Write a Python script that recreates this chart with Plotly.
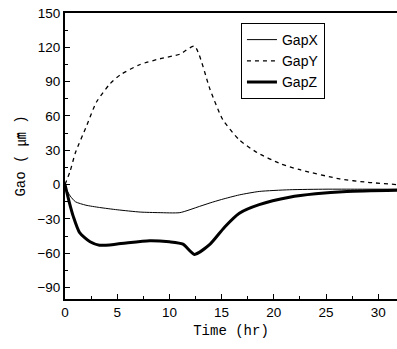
import plotly.graph_objects as go

t_x = [0, 0.5, 1, 2, 3.3, 5, 7.2, 9, 11, 12.9, 13.9, 15, 16.7, 18.6, 21.5, 25, 28, 31.8]
gap_x = [-2, -10, -15, -18, -20, -22, -24, -24.5, -24.5, -19, -16, -13, -9, -6, -4.5, -4, -4, -4]

t_y = [0, 0.5, 1, 2.1, 3, 4.3, 5.3, 7.2, 9.1, 11, 12.4, 13.9, 15.1, 16.7, 18.4, 20.7, 22.5, 26.3, 29, 31.8]
gap_y = [0, 12, 28, 52, 72, 88, 96, 105, 110, 114, 121, 83, 57, 39, 28, 18, 13, 5, 2, 0]

t_z = [0, 0.4, 0.8, 1.4, 2.4, 3.3, 5, 8.1, 10, 11.3, 12.4, 13.9, 15.3, 16.7, 18.6, 21.5, 24, 27, 31.8]
gap_z = [0, -15, -28, -42, -50, -53, -52, -49, -50, -52, -61, -52, -37, -25, -17.5, -11, -8, -6, -5]

fig = go.Figure()
fig.add_trace(go.Scatter(x=t_x, y=gap_x, mode="lines", name="GapX",
                         line=dict(color="black", width=1, shape="spline", smoothing=0.6)))
fig.add_trace(go.Scatter(x=t_y, y=gap_y, mode="lines", name="GapY",
                         line=dict(color="black", width=1.3, dash="4px,4px", shape="spline", smoothing=0.6)))
fig.add_trace(go.Scatter(x=t_z, y=gap_z, mode="lines", name="GapZ",
                         line=dict(color="black", width=3, shape="spline", smoothing=0.6)))

fig.update_layout(
    width=397, height=349,
    margin=dict(l=65, r=0, t=13, b=50),
    plot_bgcolor="white", paper_bgcolor="white",
    font=dict(family="Liberation Sans, Arial", size=13.5, color="black"),
    showlegend=True,
    legend=dict(x=0.53, y=0.965, xanchor="left", yanchor="top",
                bordercolor="black", borderwidth=1, bgcolor="white",
                font=dict(size=14), tracegroupgap=0, itemwidth=30),
)
fig.update_xaxes(
    range=[0, 31.8], tickmode="array", tickvals=[0, 5, 10, 15, 20, 25, 30],
    showline=True, linecolor="black", linewidth=2, mirror=True,
    ticks="inside", ticklen=5, tickcolor="black", showgrid=False, zeroline=False,
    minor=dict(ticks="inside", ticklen=3, dtick=2.5, tickcolor="black"),
    title=dict(text="Time (hr)", font=dict(family="Liberation Mono", size=14), standoff=6),
)
fig.update_yaxes(
    range=[-100, 150], tickmode="array", tickvals=[-90, -60, -30, 0, 30, 60, 90, 120, 150],
    showline=True, linecolor="black", linewidth=2,
    ticks="inside", ticklen=5, tickcolor="black", showgrid=False, zeroline=False,
    minor=dict(ticks="inside", ticklen=3, dtick=15, tickcolor="black"),
    title=dict(text="Gao ( <span style='font-family:Noto Sans CJK KR'>㎛</span> )",
               font=dict(family="Liberation Mono", size=14), standoff=8),
)

fig.write_html("out.html")
